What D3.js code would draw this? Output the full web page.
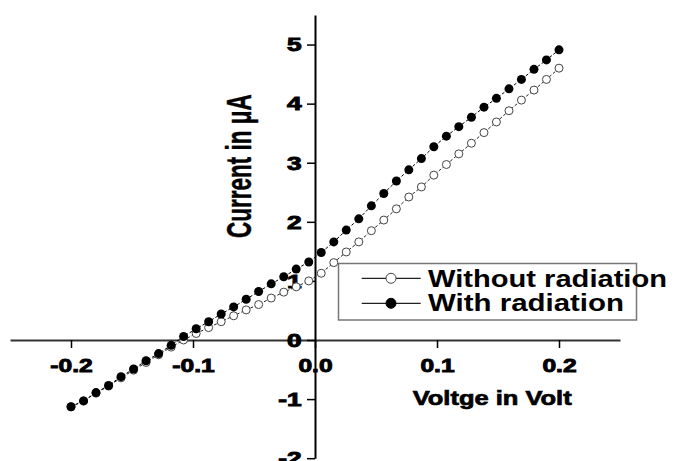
<!DOCTYPE html>
<html><head><meta charset="utf-8">
<script src="https://cdn.jsdelivr.net/npm/d3@7"></script>
<style>body{margin:0;background:#fff} svg{display:block}</style>
</head><body><svg id="c" width="676" height="461"></svg>
<script>
const voltage = [-0.2,-0.1897,-0.1795,-0.1692,-0.159,-0.1487,-0.1385,-0.1282,-0.1179,-0.1077,
  -0.0974,-0.0872,-0.0769,-0.0667,-0.0564,-0.0462,-0.0359,-0.0256,-0.0154,-0.0051,
  0.0051,0.0154,0.0256,0.0359,0.0462,0.0564,0.0667,0.0769,0.0872,0.0974,
  0.1077,0.1179,0.1282,0.1385,0.1487,0.159,0.1692,0.1795,0.1897,0.2];
const currentWithout = [-1.13,-1.03,-0.90,-0.78,-0.64,-0.51,-0.38,-0.25,-0.12,0.0,
  0.11,0.21,0.31,0.41,0.51,0.60,0.71,0.81,0.90,1.00,
  1.13,1.31,1.49,1.66,1.85,2.03,2.22,2.42,2.59,2.79,
  2.97,3.15,3.33,3.51,3.69,3.88,4.06,4.23,4.41,4.60];
const currentWith = [-1.13,-1.03,-0.89,-0.77,-0.62,-0.49,-0.35,-0.23,-0.09,0.06,
  0.19,0.31,0.44,0.56,0.69,0.82,0.95,1.07,1.20,1.32,
  1.48,1.66,1.86,2.05,2.27,2.48,2.69,2.88,3.07,3.27,
  3.45,3.61,3.77,3.94,4.09,4.25,4.41,4.58,4.74,4.91];
const xTicks = [-0.2,-0.1,0,0.1,0.2];
const yTicks = [-2,-1,0,1,2,3,4,5];
const seriesNames = ["Without radiation","With radiation"];
const xTitle = "Voltge in Volt";
const yTitle = "Current in μA";

const FONT = "'Liberation Sans', Arial, sans-serif";
const svg = d3.select("#c");
const x = d3.scaleLinear().domain([-0.25,0.25]).range([10,620]);
const y = d3.scaleLinear().domain([-2,5.5]).range([458.2,15]);

// X axis
const gx = svg.append("g").attr("transform",`translate(0,${y(0)})`)
  .call(d3.axisBottom(x).tickValues(xTicks).tickSize(8).tickSizeOuter(0).tickFormat(d=>d.toFixed(1)));
gx.select(".domain").attr("stroke","#333").attr("stroke-width",2);
gx.selectAll(".tick line").attr("stroke","#000").attr("stroke-width",1.5);
gx.selectAll(".tick text").attr("dy",null).attr("y",32)
  .attr("font-family",FONT).attr("font-weight","bold").attr("font-size",18.5)
  .attr("fill","#000").attr("stroke","#000").attr("stroke-width",0.9)
  .attr("transform","scale(1.33,1)");

// Y axis
const gy = svg.append("g").attr("transform",`translate(${x(0)},0)`)
  .call(d3.axisLeft(y).tickValues(yTicks).tickSize(8).tickSizeOuter(0).tickFormat(d=>String(d)));
gy.select(".domain").attr("stroke","#000").attr("stroke-width",2);
gy.selectAll(".tick line").attr("stroke","#000").attr("stroke-width",1.5);
gy.selectAll(".tick text").attr("x",-9).attr("dy","0.36em")
  .attr("font-family",FONT).attr("font-weight","bold").attr("font-size",17.5)
  .attr("fill","#000").attr("stroke","#000").attr("stroke-width",0.9)
  .attr("transform","scale(1.5,1)");

// Series
const ptsWithout = voltage.map((v,i)=>[v,currentWithout[i]]);
const ptsWith = voltage.map((v,i)=>[v,currentWith[i]]);
const line = d3.line().x(d=>x(d[0])).y(d=>y(d[1]));

svg.append("path").datum(ptsWithout).attr("d",line).attr("fill","none")
  .attr("stroke","#222").attr("stroke-width",1).attr("stroke-dasharray","3,2");
svg.append("g").selectAll("circle").data(ptsWithout).join("circle")
  .attr("cx",d=>x(d[0])).attr("cy",d=>y(d[1])).attr("r",4)
  .attr("fill","#fff").attr("stroke","#444").attr("stroke-width",1);

svg.append("path").datum(ptsWith).attr("d",line).attr("fill","none")
  .attr("stroke","#000").attr("stroke-width",1).attr("stroke-dasharray","3,2");
svg.append("g").selectAll("circle").data(ptsWith).join("circle")
  .attr("cx",d=>x(d[0])).attr("cy",d=>y(d[1])).attr("r",4.5)
  .attr("fill","#000");

// Axis titles
svg.append("text").attr("x",412.7).attr("y",405)
  .attr("font-family",FONT).attr("font-weight","bold").attr("font-size",20)
  .attr("stroke","#000").attr("stroke-width",0.7)
  .attr("textLength",159).attr("lengthAdjust","spacingAndGlyphs")
  .text(xTitle);
svg.append("text").attr("transform","translate(251,238) scale(1.55,1) rotate(-90)")
  .attr("font-family",FONT).attr("font-weight","bold").attr("font-size",22.5)
  .attr("stroke","#000").attr("stroke-width",0.3)
  .text(yTitle);

// Legend
const lg = svg.append("g");
lg.append("rect").attr("x",338.5).attr("y",263.5).attr("width",298).attr("height",56.5)
  .attr("fill","#fff").attr("stroke","#777").attr("stroke-width",1.5);
const rows = [
  {name:seriesNames[0], cy:278.3, fill:"#fff", stroke:"#444", len:239, base:286.5},
  {name:seriesNames[1], cy:303.3, fill:"#000", stroke:"#000", len:196, base:311}
];
rows.forEach(r=>{
  lg.append("line").attr("x1",361.7).attr("x2",420.7).attr("y1",r.cy).attr("y2",r.cy)
    .attr("stroke","#222").attr("stroke-width",1.2);
  lg.append("circle").attr("cx",391).attr("cy",r.cy).attr("r",5)
    .attr("fill",r.fill).attr("stroke",r.stroke).attr("stroke-width",1);
  lg.append("text").attr("x",428).attr("y",r.base)
    .attr("font-family",FONT).attr("font-weight","bold").attr("font-size",23.5)
    .attr("textLength",r.len).attr("lengthAdjust","spacingAndGlyphs")
    .text(r.name);
});
</script></body></html>
